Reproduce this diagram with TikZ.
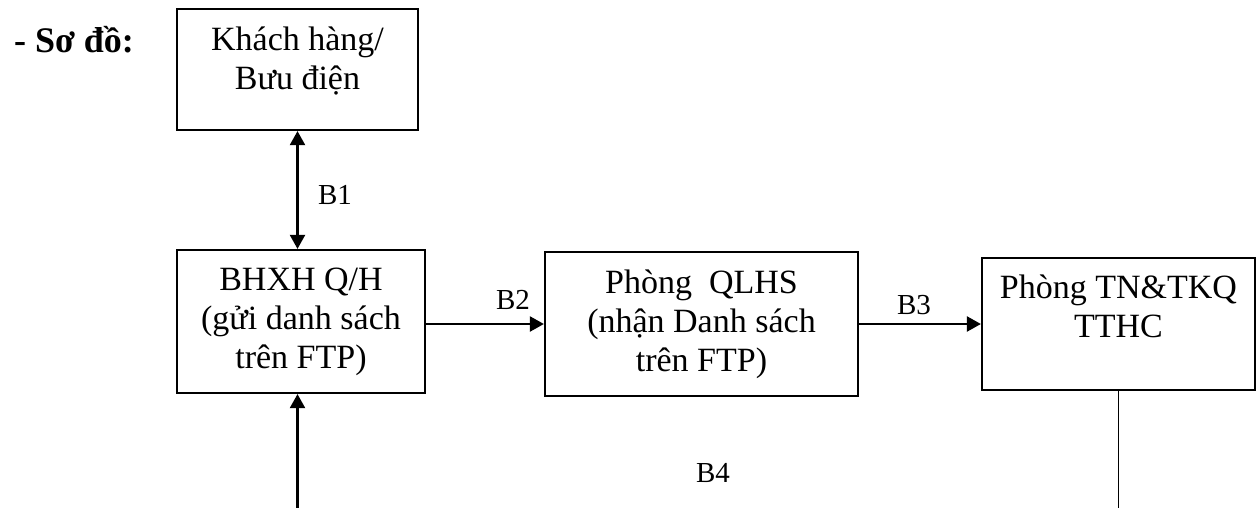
\documentclass[tikz,border=0pt]{standalone}
\usepackage{fontspec}
\setmainfont{Liberation Serif}
\usetikzlibrary{arrows.meta}

\newcommand{\wpic}{1257}
\newcommand{\hpic}{508}
\newcommand{\lw}{2.2pt}

\tikzset{
  box/.style={draw, line width=\lw, align=center, inner sep=0pt, font=\fontsize{34}{39}\selectfont},
  lbl/.style={font=\fontsize{29}{34}\selectfont},
  arr/.style={line width=\lw, -{Triangle[length=14pt,width=15pt]}},
  darr/.style={line width=\lw, {Triangle[length=14pt,width=15pt]}-{Triangle[length=14pt,width=15pt]}}
}

\begin{document}
\begin{tikzpicture}[x=1pt,y=-1pt]
                    \useasboundingbox (0,0) rectangle (\wpic,\hpic);
                    \node[font=\bfseries\fontsize{36}{42}\selectfont] (tieude) at (74,40) {- Sơ đồ:};
                    \node[box, text depth=22pt, minimum width=241pt, minimum height=121pt] (khach) at (297.5,69.5) {Khách hàng/\\Bưu điện};
                    \node[box, minimum width=248pt, minimum height=143pt] (bhxh) at (301,321.5) {BHXH Q/H\\(gửi danh sách\\trên FTP)};
                    \node[box, minimum width=313pt, minimum height=144pt] (qlhs) at (701.5,324) {Phòng\ \ QLHS\\(nhận Danh sách\\trên FTP)};
                    \node[box, text depth=36pt, minimum width=273pt, minimum height=132pt] (tn) at (1118.5,324) {Phòng TN\&TKQ\\TTHC};
                    \coordinate (vao) at (khach.south |- 0,\hpic);
                    \coordinate (ra) at (tn.south |- 0,\hpic);
                    \draw[darr] (khach.south) -- (khach.south |- bhxh.north);
                    \draw[arr] (bhxh.east |- qlhs.west) -- (qlhs.west);
                    \draw[arr] (qlhs.east) -- (tn.west);
                    \draw[arr] (vao) -- (vao |- bhxh.south);
                    \draw[line width=1.8pt] (tn.south) -- (ra);
                    \node[lbl] (b1) at (335,195) {B1};
                    \node[lbl] (b2) at (513,300) {B2};
                    \node[lbl] (b3) at (914,305) {B3};
                    \node[lbl] (b4) at (713,473) {B4};
                \end{tikzpicture}
\end{document}
